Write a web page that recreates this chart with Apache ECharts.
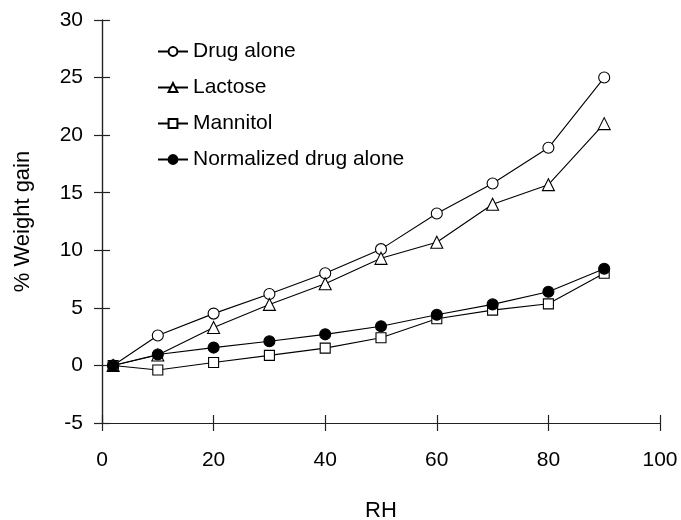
<!DOCTYPE html>
<html><head><meta charset="utf-8">
<script src="https://cdn.jsdelivr.net/npm/echarts@6/dist/echarts.min.js"></script>
<style>html,body{margin:0;padding:0;background:#fff}#c{width:681px;height:520px}</style>
</head><body><div id="c"></div>
<script>
var rh = [2, 10, 20, 30, 40, 50, 60, 70, 80, 90];
var drugAlone = [0, 2.6, 4.5, 6.2, 8.0, 10.1, 13.2, 15.8, 18.9, 25.0];
var lactose = [0, 0.9, 3.3, 5.3, 7.1, 9.3, 10.7, 14.0, 15.7, 21.0];
var mannitol = [0, -0.4, 0.25, 0.87, 1.5, 2.4, 4.05, 4.8, 5.35, 8.0];
var normalized = [0, 0.95, 1.55, 2.1, 2.7, 3.4, 4.4, 5.3, 6.4, 8.4];
var xTicks = [0, 20, 40, 60, 80, 100];
var yTicks = [-5, 0, 5, 10, 15, 20, 25, 30];
var seriesNames = ['Drug alone', 'Lactose', 'Mannitol', 'Normalized drug alone'];

function pairs(ys){ return rh.map(function(x,i){ return [x, ys[i]]; }); }
var font = 'Liberation Sans, Arial, sans-serif';
var black = '#000';

function mk(name, ys, symbol, size, fill){
  return {
    name: name, type: 'line', data: pairs(ys), symbol: symbol, symbolSize: size,
    showAllSymbol: true,
    lineStyle: { color: black, width: 1.1 },
    itemStyle: { color: fill, borderColor: black, borderWidth: 1.1 },
    emphasis: { disabled: true },
    animation: false, z: 3
  };
}

var chart = echarts.init(document.getElementById('c'), null, {renderer: 'canvas'});
var tickStyle = { color: '#222', width: 1.2 };
var baseX = {
  type: 'value', min: xTicks[0], max: xTicks[xTicks.length-1], interval: 20,
  gridIndex: 0, position: 'bottom',
  axisLine: { show: true, onZero: false, lineStyle: { color: '#222', width: 1.2 } },
  splitLine: { show: false }
};
var baseY = {
  type: 'value', min: yTicks[0], max: yTicks[yTicks.length-1], interval: 5,
  gridIndex: 0, position: 'left',
  axisLine: { show: true, onZero: false, lineStyle: { color: '#222', width: 1.2 } },
  splitLine: { show: false }
};
chart.setOption({
  animation: false,
  backgroundColor: '#fff',
  grid: { left: 102, right: 21, top: 20, bottom: 97, containLabel: false, outerBoundsMode: 'none' },
  legend: {
    orient: 'vertical', left: 157, top: 41, padding: 0,
    itemWidth: 30, itemHeight: 11, itemGap: 15,
    data: seriesNames,
    textStyle: { color: black, fontSize: 21, fontFamily: font, lineHeight: 21 },
    inactiveColor: '#ccc'
  },
  xAxis: [
    Object.assign({}, baseX, {
      name: 'RH', nameLocation: 'middle', nameGap: 77,
      nameTextStyle: { color: black, fontSize: 22, fontFamily: font },
      axisTick: { show: true, length: 8, lineStyle: tickStyle },
      axisLabel: { color: black, fontSize: 21, fontFamily: font, margin: 27 }
    }),
    Object.assign({}, baseX, {
      axisTick: { show: true, inside: true, length: 8, lineStyle: tickStyle },
      axisLabel: { show: false }
    })
  ],
  yAxis: [
    Object.assign({}, baseY, {
      name: '% Weight gain', nameLocation: 'middle', nameGap: 68, nameRotate: 90,
      nameTextStyle: { color: black, fontSize: 22, fontFamily: font },
      axisTick: { show: true, length: 8, lineStyle: tickStyle },
      axisLabel: { color: black, fontSize: 21, fontFamily: font, margin: 19 }
    }),
    Object.assign({}, baseY, {
      axisTick: { show: true, inside: true, length: 8, lineStyle: tickStyle },
      axisLabel: { show: false }
    })
  ],
  series: [
    mk(seriesNames[0], drugAlone, 'circle', 11, '#fff'),
    mk(seriesNames[1], lactose, 'triangle', 12, '#fff'),
    mk(seriesNames[2], mannitol, 'rect', 10, '#fff'),
    mk(seriesNames[3], normalized, 'circle', 11, '#000')
  ]
});
</script></body></html>
